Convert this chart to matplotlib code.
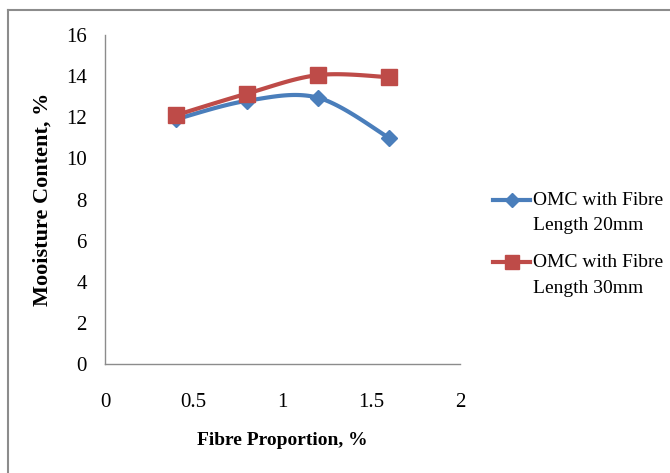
import numpy as np
import matplotlib
matplotlib.use("Agg")
import matplotlib.pyplot as plt
from matplotlib.lines import Line2D

fibre_proportion = [0.4, 0.8, 1.2, 1.6]
omc_20mm = [11.9, 12.8, 12.95, 11.0]
omc_30mm = [12.1, 13.15, 14.05, 13.95]
series_labels = ["OMC with Fibre\nLength 20mm", "OMC with Fibre\nLength 30mm"]
x_ticks = [0, 0.5, 1, 1.5, 2]
x_tick_labels = ["0", "0.5", "1", "1.5", "2"]
y_ticks = [0, 2, 4, 6, 8, 10, 12, 14, 16]

blue = "#4a7ebb"
red = "#be4b48"
FONT = "Liberation Serif"


def smooth(xs, ys, n=30):
    # Catmull-Rom style smoothing (like Excel's smoothed line)
    xs = np.asarray(xs, float)
    ys = np.asarray(ys, float)
    P = np.column_stack([xs, ys])
    P = np.vstack([P[0], P, P[-1]])
    out = []
    t = np.linspace(0, 1, n)
    for i in range(1, len(P) - 2):
        p0, p1, p2, p3 = P[i - 1], P[i], P[i + 1], P[i + 2]
        c1 = p1 + (p2 - p0) / 6
        c2 = p2 - (p3 - p1) / 6
        seg = ((1 - t) ** 3)[:, None] * p1 + (3 * (1 - t) ** 2 * t)[:, None] * c1 \
            + (3 * (1 - t) * t ** 2)[:, None] * c2 + (t ** 3)[:, None] * p2
        out.append(seg if i == 1 else seg[1:])
    s = np.vstack(out)
    return s[:, 0], s[:, 1]


fig = plt.figure(figsize=(6.70, 4.73), dpi=100)
ax = fig.add_axes([105 / 670, 1 - 364 / 473, 355 / 670, 329 / 473])

styles = [(blue, "D", 8.5), (red, "s", 12)]
for ys, (c, m, ms) in zip([omc_20mm, omc_30mm], styles):
    sx, sy = smooth(fibre_proportion, ys)
    ax.plot(sx, sy, color=c, lw=3, solid_capstyle="round", zorder=2)
    ax.plot(fibre_proportion, ys, ls="none", marker=m, ms=ms, color=c, zorder=3)

ax.set_xlim(0, 2)
ax.set_ylim(0, 16)
ax.set_xticks(x_ticks)
ax.set_xticklabels(x_tick_labels)
ax.set_yticks(y_ticks)
ax.tick_params(length=0, labelsize=15)
ax.tick_params(axis="x", pad=21)
ax.tick_params(axis="y", pad=13)
for lab in ax.get_xticklabels() + ax.get_yticklabels():
    lab.set_fontfamily(FONT)
for s in ["top", "right"]:
    ax.spines[s].set_visible(False)
for s in ["left", "bottom"]:
    ax.spines[s].set_color("#8c8c8c")
    ax.spines[s].set_linewidth(1.0)

ax.set_xlabel("Fibre Proportion, %", fontsize=14, fontweight="bold", family=FONT, labelpad=14)
ax.set_ylabel("Mooisture Content, %", fontsize=16, fontweight="bold", family=FONT, labelpad=10)

# legend drawn manually
W, H = 670, 473
for i, (c, m, ms) in enumerate(styles):
    y = 1 - (200 + i * 62) / H
    fig.add_artist(Line2D([493 / W, 530 / W], [y, y], color=c, lw=3))
    fig.add_artist(Line2D([511.5 / W], [y], marker=m, ms=ms * 0.85, color=c, ls="none"))
    line1, line2 = series_labels[i].split("\n")
    fig.text(533 / W, y, line1, fontsize=14, family=FONT, va="center", ha="left")
    fig.text(533 / W, y - 26 / H, line2, fontsize=14, family=FONT, va="center", ha="left")

# outer border
fig.add_artist(Line2D([8 / W, 8 / W], [0, 1 - 10 / H], color="#8c8c8c", lw=1.5))
fig.add_artist(Line2D([8 / W, 1], [1 - 10 / H, 1 - 10 / H], color="#8c8c8c", lw=1.5))

fig.savefig("out.png", dpi=100)
